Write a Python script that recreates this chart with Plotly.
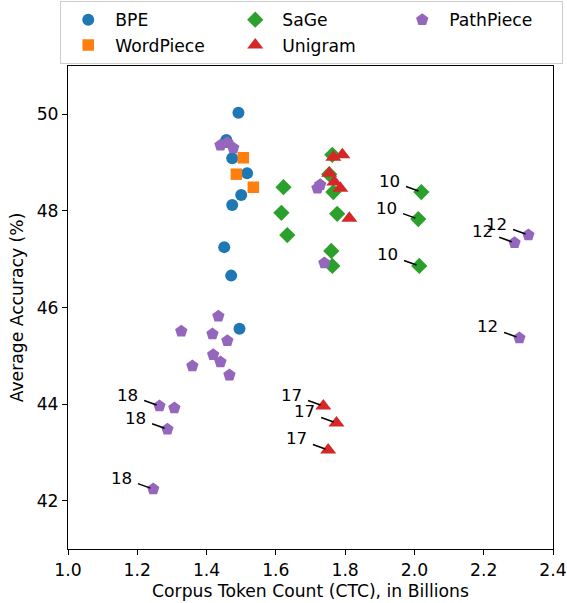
import plotly.graph_objects as go

# ---- data ----
bpe_x = [1.492, 1.457, 1.474, 1.517, 1.500, 1.474, 1.451, 1.471, 1.495]
bpe_y = [50.03, 49.47, 49.09, 48.78, 48.33, 48.12, 47.25, 46.66, 45.56]

wp_x = [1.506, 1.486, 1.535]
wp_y = [49.10, 48.76, 48.49]

sage_x = [1.622, 1.616, 1.633, 1.763, 1.754, 1.766, 1.777, 1.760, 1.763, 2.020, 2.011, 2.014]
sage_y = [48.49, 47.96, 47.50, 49.16, 48.76, 48.39, 47.94, 47.17, 46.86, 48.39, 47.83, 46.86]
sage_lab = ["", "", "", "", "", "", "", "", "", "10", "10", "10"]

uni_x = [1.766, 1.792, 1.754, 1.769, 1.786, 1.812, 1.737, 1.775, 1.751]
uni_y = [49.11, 49.16, 48.78, 48.60, 48.47, 47.85, 43.96, 43.61, 43.05]
uni_lab = ["", "", "", "", "", "", "17", "17", "17"]

pp_x = [1.440, 1.460, 1.477, 1.720, 1.728, 1.740, 1.434, 1.327, 1.417, 1.460, 1.419,
        1.440, 1.359, 1.466, 1.264, 1.307, 1.287, 1.246, 2.329, 2.289, 2.303]
pp_y = [49.36, 49.41, 49.30, 48.47, 48.54, 46.92, 45.82, 45.51, 45.45, 45.31, 45.02,
        44.87, 44.79, 44.60, 43.96, 43.92, 43.48, 42.24, 47.50, 47.34, 45.37]
pp_lab = ["", "", "", "", "", "", "", "", "", "", "",
          "", "", "", "18", "", "18", "18", "12", "12", "12"]

x_ticks = [1.0, 1.2, 1.4, 1.6, 1.8, 2.0, 2.2, 2.4]
y_ticks = [42, 44, 46, 48, 50]

FONT = "DejaVu Sans"
FS = 17.2

series = [
    ("BPE", bpe_x, bpe_y, "circle", 12, "#1f77b4", 1),
    ("WordPiece", wp_x, wp_y, "square", 11.5, "#ff7f0e", 4),
    ("SaGe", sage_x, sage_y, "diamond", 12.5, "#2ca02c", 2),
    ("Unigram", uni_x, uni_y, "triangle-up", 14, "#d62728", 5),
    ("PathPiece", pp_x, pp_y, "pentagon", 13, "#9467bd", 3),
]

fig = go.Figure()
for name, xs, ys, sym, sz, col, rank in series:
    fig.add_trace(go.Scatter(
        x=xs, y=ys, mode="markers", name=name, legendrank=rank,
        marker=dict(symbol=sym, size=sz, color=col, line=dict(width=0)),
    ))

for xs, ys, labs in [(sage_x, sage_y, sage_lab), (uni_x, uni_y, uni_lab), (pp_x, pp_y, pp_lab)]:
    for xv, yv, lab in zip(xs, ys, labs):
        if lab:
            fig.add_annotation(
                x=xv, y=yv, text=lab, showarrow=True, arrowhead=0,
                ax=-32, ay=-11.5, arrowwidth=1.5, arrowcolor="black",
                standoff=3, startstandoff=5,
                font=dict(family=FONT, size=FS - 0.5, color="black"),
            )

axis_common = dict(
    showgrid=False, zeroline=False, showline=True, linecolor="black", linewidth=1,
    mirror=True, ticks="outside", ticklen=5, tickwidth=1, tickcolor="black",
    tickfont=dict(family=FONT, size=FS, color="black"),
)

fig.update_layout(
    width=567, height=603,
    margin=dict(l=68, r=14, t=66, b=54, autoexpand=False),
    plot_bgcolor="white", paper_bgcolor="white",
    font=dict(family=FONT, size=FS, color="black"),
    xaxis=dict(range=[1.0, 2.4], tickvals=x_ticks, ticktext=[f"{v:.1f}" for v in x_ticks],
               title=dict(text="Corpus Token Count (CTC), in Billions", standoff=6,
                          font=dict(family=FONT, size=FS)),
               **axis_common),
    yaxis=dict(range=[41, 51], tickvals=y_ticks, ticktext=[str(v) for v in y_ticks],
               title=dict(text="Average Accuracy (%)", standoff=8,
                          font=dict(family=FONT, size=FS)),
               **axis_common),
    legend=dict(orientation="h", x=-0.016, xanchor="left", y=1.1345, yanchor="top",
                bordercolor="#cccccc", borderwidth=1, bgcolor="white",
                itemwidth=44, entrywidth=108, entrywidthmode="pixels",
                font=dict(family=FONT, size=FS), traceorder="normal"),
    showlegend=True,
)

fig.write_html("out.html", post_script="document.body.style.margin='0';",
               config={"displayModeBar": False})
